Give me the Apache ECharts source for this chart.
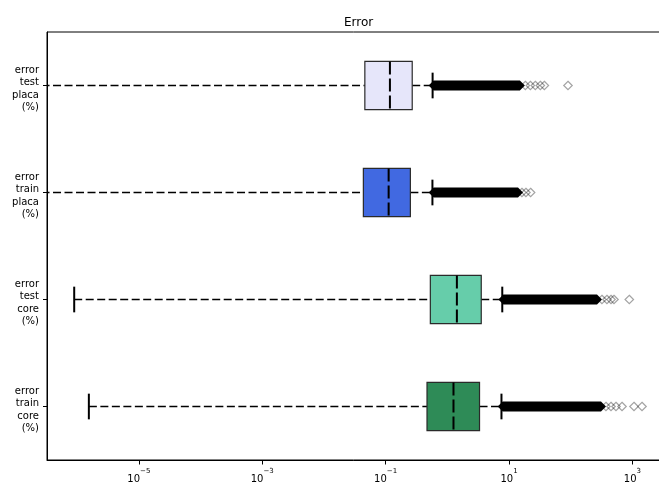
<!DOCTYPE html>
<html>
<head>
<meta charset="utf-8">
<script src="https://cdn.jsdelivr.net/npm/echarts@6/dist/echarts.min.js"></script>
<style>
  html, body { margin: 0; padding: 0; background: #fff; }
  #chart { width: 659px; height: 482px; }
</style>
</head>
<body>
<div id="chart"></div>
<script>
// Error distributions (percent) per model and split, bottom row first
const categories = ['error\ntrain\ncore\n(%)', 'error\ntest\ncore\n(%)', 'error\ntrain\nplaca\n(%)', 'error\ntest\nplaca\n(%)'];
const whiskerLow = [1.55e-6, 8.97e-7, 1e-9, 1e-9];
const quartile1 = [0.469, 0.531, 0.0436, 0.0461];
const medians = [1.26, 1.43, 0.112, 0.1175];
const quartile3 = [3.33, 3.55, 0.252, 0.270];
const whiskerHigh = [7.55, 7.78, 0.574, 0.578];
// outliers packed too tightly to tell apart: first and last value of the run
const denseOutlierFrom = [7.9, 8.1, 0.6, 0.6];
const denseOutlierTo = [310, 267, 14.0, 15.0];
// outliers that stand apart past the end of each run
const sparseOutliers = [
  [373, 450, 542, 679, 1062, 1432],
  [321, 387, 450, 503, 891],
  [16.2, 18.8, 22.4],
  [18.4, 22.2, 26.7, 32.2, 37.4, 90.4]
];
const xTicks = [1e-5, 1e-3, 1e-1, 1e1, 1e3];
const xMin = 3.25e-7;
const xMax = 4070;

const boxFill = ['#2E8B57', '#66CDAA', '#4169E1', '#E6E6FA'];
const FONT = 'DejaVu Sans';

const boxData = categories.map((c, i) => [i, whiskerLow[i], quartile1[i], medians[i], quartile3[i], whiskerHigh[i]]);
const denseData = categories.map((c, i) => [i, denseOutlierFrom[i], denseOutlierTo[i]]);
const sparseData = [];
sparseOutliers.forEach((list, i) => list.forEach(v => sparseData.push([v, i])));

function renderBox(params, api) {
  const cat = api.value(0);
  const lo = api.coord([api.value(1), cat]);
  const q1 = api.coord([api.value(2), cat]);
  const med = api.coord([api.value(3), cat]);
  const q3 = api.coord([api.value(4), cat]);
  const hi = api.coord([api.value(5), cat]);
  const band = params.coordSys.height / categories.length;
  const h = band * 0.45;
  const capH = band * 0.24;
  const y = med[1];
  const dash = { stroke: '#000', lineWidth: 1.5, lineDash: [8, 3.5] };
  const cap = { stroke: '#000', lineWidth: 2 };
  return {
    type: 'group',
    children: [
      { type: 'line', shape: { x1: lo[0], y1: y, x2: q1[0], y2: y }, style: dash },
      { type: 'line', shape: { x1: q3[0], y1: y, x2: hi[0], y2: y }, style: dash },
      { type: 'line', shape: { x1: lo[0], y1: y - capH / 2, x2: lo[0], y2: y + capH / 2 }, style: cap },
      { type: 'line', shape: { x1: hi[0], y1: y - capH / 2, x2: hi[0], y2: y + capH / 2 }, style: cap },
      { type: 'rect', shape: { x: q1[0], y: y - h / 2, width: q3[0] - q1[0], height: h },
        style: { fill: boxFill[params.dataIndex], stroke: '#2a2a2a', lineWidth: 1.2 } },
      { type: 'line', shape: { x1: med[0], y1: y - h / 2, x2: med[0], y2: y + h / 2 },
        style: { stroke: '#000', lineWidth: 2, lineDash: [13, 4] } }
    ]
  };
}

function renderDense(params, api) {
  const cat = api.value(0);
  const a = api.coord([api.value(1), cat]);
  const b = api.coord([api.value(2), cat]);
  const r = 5;
  return {
    type: 'polygon',
    shape: { points: [[a[0] - r, a[1]], [a[0], a[1] - r], [b[0], b[1] - r], [b[0] + r, b[1]], [b[0], b[1] + r], [a[0], a[1] + r]] },
    style: { fill: '#000' }
  };
}

const chart = echarts.init(document.getElementById('chart'), null, { renderer: 'canvas' });
chart.setOption({
  animation: false,
  textStyle: { fontFamily: FONT },
  title: {
    text: 'Error',
    left: 344, top: 17, padding: 0,
    textStyle: { fontFamily: FONT, fontSize: 12, fontWeight: 'normal', color: '#000' }
  },
  grid: {
    left: 47, right: -11, top: 32, bottom: 22,
    show: true, borderColor: '#000', borderWidth: 1,
    containLabel: false, outerBoundsMode: 'none'
  },
  xAxis: {
    type: 'log', min: xMin, max: xMax,
    axisLine: { show: true, lineStyle: { color: '#000', width: 1 } },
    axisTick: { show: true, customValues: xTicks, length: 4.5, lineStyle: { color: '#000', width: 1 } },
    splitLine: { show: false },
    minorTick: { show: false },
    axisLabel: {
      customValues: xTicks,
      margin: 8,
      formatter: v => {
        const e = Math.round(Math.log10(v));
        return '{n|10}{s|' + (e < 0 ? '\u2212' : '') + Math.abs(e) + '}';
      },
      rich: {
        n: { fontFamily: FONT, fontSize: 10, lineHeight: 16, verticalAlign: 'bottom', color: '#000' },
        s: { fontFamily: FONT, fontSize: 7, lineHeight: 4, verticalAlign: 'top', color: '#000' }
      }
    }
  },
  yAxis: {
    type: 'category', data: categories,
    axisLine: { show: true, lineStyle: { color: '#000', width: 1 } },
    axisTick: { show: true, alignWithLabel: true, length: 4, lineStyle: { color: '#000' } },
    axisLabel: {
      margin: 8, fontFamily: FONT, fontSize: 10, lineHeight: 12.6, color: '#000', align: 'right',
      // a thin blank first line nudges the text block slightly below the tick
      formatter: v => '{gap| }\n' + v,
      rich: { gap: { fontSize: 1, lineHeight: 7 } }
    },
    splitLine: { show: false }
  },
  series: [
    {
      type: 'custom', name: 'box', clip: true,
      renderItem: renderBox, data: boxData,
      encode: { x: [1, 2, 3, 4, 5], y: 0 }, z: 2
    },
    {
      type: 'custom', name: 'dense outliers', clip: true,
      renderItem: renderDense, data: denseData,
      encode: { x: [1, 2], y: 0 }, z: 3
    },
    {
      type: 'scatter', name: 'outliers', data: sparseData,
      symbol: 'diamond', symbolSize: 8.5,
      itemStyle: { color: 'rgba(0,0,0,0)', borderColor: 'rgba(0,0,0,0.45)', borderWidth: 1.2 },
      z: 4
    }
  ]
});
</script>
</body>
</html>
